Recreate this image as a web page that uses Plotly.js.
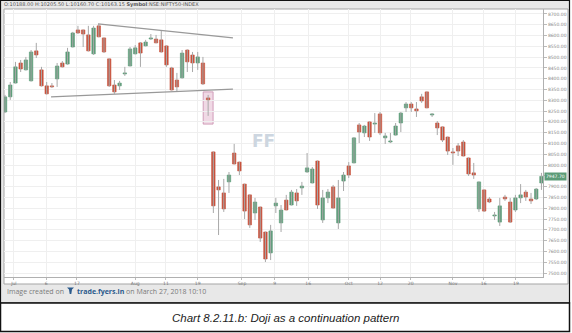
<!DOCTYPE html>
<html>
<head>
<meta charset="utf-8">
<script src="https://cdn.plot.ly/plotly-3.0.1.min.js"></script>
<style>html,body{margin:0;padding:0;background:#fff;}#chart{width:572px;height:333px;}</style>
</head>
<body>
<div id="chart"></div>
<script>
// ---- data ----
const openP = [8246,8316,8380,8473,8441,8390,8529,8441,8367,8367,
8399,8473,8468,8547,8626,8626,8603,8515,8645,8589,
8492,8371,8367,8422,8459,8515,8566,8552,8584,8584,
8580,8552,8450,8394,8404,8533,8510,8473,8473,8311,
8061,7899,7871,7922,8056,8014,7912,7862,7778,7806,
7690,7593,7811,7732,7838,7815,7871,7894,7968,7917,
8019,7746,7848,7899,7732,7926,7996,8010,8186,8149,
8200,8190,8237,8126,8107,8139,8195,8265,8283,8260,
8316,8339,8232,8195,8177,8130,8061,8089,8107,8033,
7964,7797,7885,7843,7764,7736,7852,7829,7792,7848,
7875,7843,7843,7917];
const highP = [8325,8385,8478,8487,8501,8533,8566,8455,8385,8380,
8473,8482,8543,8617,8645,8628,8645,8645,8654,8591,
8494,8394,8390,8455,8547,8556,8570,8580,8607,8603,
8621,8554,8455,8427,8533,8536,8524,8524,8501,8325,
8063,7931,7936,7968,8098,8016,7914,7864,7848,7808,
7692,7723,7848,7815,7862,7885,7889,7922,8056,7991,
8021,7885,7889,7908,7931,7968,8014,8130,8195,8186,
8202,8241,8246,8149,8149,8195,8246,8292,8292,8292,
8330,8341,8241,8204,8179,8132,8079,8102,8116,8035,
8010,7924,7887,7852,7783,7848,7862,7848,7862,7912,
7885,7871,7894,7964];
const lowP = [8241,8302,8378,8431,8438,8387,8496,8364,8327,8357,
8362,8452,8465,8545,8607,8547,8526,8510,8592,8519,
8362,8330,8348,8413,8457,8513,8455,8550,8580,8564,
8521,8455,8345,8343,8401,8431,8431,8441,8371,8228,
7778,7676,7783,7871,8003,7954,7750,7709,7746,7644,
7551,7560,7778,7690,7790,7813,7811,7862,7964,7915,
7797,7732,7824,7799,7704,7880,7940,8008,8102,8130,
8112,8149,8139,8098,8102,8137,8153,8246,8246,8223,
8288,8263,8223,8139,8107,8047,8001,8042,8040,7950,
7936,7783,7783,7824,7746,7718,7834,7732,7783,7824,
7834,7820,7838,7885];
const closeP = [8316,8371,8455,8445,8487,8524,8510,8367,8330,8362,
8459,8455,8524,8612,8612,8607,8529,8635,8594,8524,
8367,8339,8380,8427,8538,8543,8519,8570,8589,8566,
8524,8464,8348,8362,8519,8478,8473,8501,8376,8302,
7811,7885,7797,7954,8005,7973,7787,7723,7829,7662,
7565,7695,7824,7792,7792,7875,7834,7903,7987,7982,
7815,7848,7875,7801,7848,7954,7954,8126,8153,8181,
8130,8195,8149,8135,8112,8181,8241,8283,8265,8251,
8297,8265,8237,8172,8116,8065,8056,8065,8042,7959,
7954,7922,7787,7829,7769,7811,7843,7736,7848,7862,
7852,7834,7889,7947.7];

const xTickVals = [2.7, 8.9, 14.8, 26, 31.9, 38, 46.5, 52.8, 59.2, 67, 73, 78.9, 87, 92.9, 99.1];
const xTickText = ["Jul","6","17","Aug","11","19","Sep","9","16","Oct","12","20","Nov","16","19"];

const yTickVals = [7500,7550,7600,7650,7700,7750,7800,7850,7900,7950,8000,8050,8100,8150,8200,
  8250,8300,8350,8400,8450,8500,8550,8600,8650,8700];
const yTickHidden = 7950; // covered by the last-price tag

const upperTrendX = [18.85, 44.76];
const upperTrendY = [8654, 8589];
const lowerTrendX = [9.83, 44.76];
const lowerTrendY = [8316, 8352];

const dojiIndex = 40;
const dojiBoxY = [8190, 8339];

const headerText = 'O:10188.00 H:10205.50 L:10160.70 C:10163.15 <b>Symbol</b>:NSE:NIFTY50-INDEX';
const captionText = 'Chart 8.2.11.b: Doji as a continuation pattern';

// ---- build ----
const GREEN = '#5c9c78', RED = '#c8523d';
const xs = openP.map((_, i) => i + 1);
const base = [], hgt = [], cols = [];
openP.forEach((o, i) => {
  const c = closeP[i];
  base.push(Math.min(o, c));
  hgt.push(Math.abs(c - o));
  cols.push(c >= o ? GREEN : RED);
});
const wx = [], wy = [];
xs.forEach((x, i) => { wx.push(x, x, null); wy.push(lowP[i], highP[i], null); });
const yTickText = yTickVals.map(v => v === yTickHidden ? '' : v.toFixed(2));

// plot area in pixels
const PL = 4, PR = 543, PT = 9, PB = 277;
const px = p => (p - PL) / (PR - PL);
const py = p => (PB - p) / (PB - PT);

const traces = [
  {type:'scatter', mode:'lines', x:wx, y:wy, line:{color:'#a8a8a8', width:1}, hoverinfo:'skip', showlegend:false},
  {type:'bar', x:xs, y:hgt, base:base, width:0.66, marker:{color:cols, line:{color:cols, width:0.6}}, showlegend:false},
  {type:'scatter', mode:'lines', x:upperTrendX, y:upperTrendY, line:{color:'#999', width:1.2}, showlegend:false},
  {type:'scatter', mode:'lines', x:lowerTrendX, y:lowerTrendY, line:{color:'#999', width:1.2}, showlegend:false}
];

const layout = {
  width:572, height:333,
  margin:{l:PL, r:572-PR, t:PT, b:333-PB},
  paper_bgcolor:'#ffffff', plot_bgcolor:'#ffffff',
  showlegend:false,
  font:{family:'DejaVu Sans, sans-serif'},
  xaxis:{range:[0.8, 104.3], tickvals:xTickVals, ticktext:xTickText, showgrid:true, gridcolor:'#efefef',
    zeroline:false, showline:true, linecolor:'#b0b0b0', ticks:'outside', ticklen:2, tickcolor:'#bbb',
    tickfont:{size:4.5, color:'#777'}, fixedrange:true},
  yaxis:{side:'right', range:[7481.6, 8723], tickvals:yTickVals, ticktext:yTickText, showgrid:true,
    gridcolor:'#efefef', zeroline:false, showline:true, linecolor:'#b0b0b0', ticks:'outside', ticklen:3,
    tickcolor:'#bbb', tickfont:{size:4.5, color:'#888'}, fixedrange:true},
  shapes:[
    {type:'rect', xref:'paper', yref:'paper', x0:px(0), x1:px(569.5), y0:py(0), y1:py(303), fillcolor:'#e8e8e8', line:{width:0}, layer:'below'},
    {type:'rect', xref:'paper', yref:'paper', x0:px(4), x1:px(568), y0:py(9), y1:py(284), fillcolor:'#ffffff', line:{color:'#a5a5a5', width:1}, layer:'below'},
    {type:'rect', xref:'paper', yref:'paper', x0:px(0.5), x1:px(569.5), y0:py(0.5), y1:py(303), fillcolor:'rgba(0,0,0,0)', line:{color:'#111', width:1.2}, layer:'below'},
    {type:'rect', xref:'paper', yref:'paper', x0:px(0.5), x1:px(569.5), y0:py(303), y1:py(331.5), fillcolor:'#ffffff', line:{color:'#111', width:1.5}, layer:'below'},
    {type:'rect', xref:'x', yref:'y', x0:dojiIndex-0.95, x1:dojiIndex+0.95, y0:dojiBoxY[0], y1:dojiBoxY[1], fillcolor:'rgba(222,170,198,0.45)', line:{color:'rgba(205,150,180,0.9)', width:1}, layer:'below'},
    {type:'path', xref:'paper', yref:'paper', path:`M ${px(67)} ${py(287.5)} L ${px(74)} ${py(287.5)} L ${px(72)} ${py(289.5)} L ${px(71.3)} ${py(294)} L ${px(69.7)} ${py(294)} L ${px(69)} ${py(289.5)} Z`, fillcolor:'#2b5a8c', line:{width:0}}
  ],
  annotations:[
    {xref:'paper', yref:'paper', x:px(2), y:py(5), xanchor:'left', yanchor:'middle', showarrow:false, text:headerText, font:{size:5, color:'#555'}},
    {xref:'paper', yref:'y', x:1, y:closeP[closeP.length-1], xanchor:'left', yanchor:'middle', xshift:1, showarrow:false, text:'7947.70', bgcolor:'#5c9c78', borderpad:1, font:{size:4.5, color:'#ffffff'}},
    {xref:'paper', yref:'paper', x:px(263), y:py(141), xanchor:'center', yanchor:'middle', showarrow:false, text:'<b>FF</b>', font:{size:17, color:'#cdd6e0'}},
    {xref:'paper', yref:'paper', x:px(5), y:py(291), xanchor:'left', yanchor:'middle', showarrow:false, text:'Image created on', font:{family:'Open Sans, sans-serif', size:7, color:'#7a7a7a'}},
    {xref:'paper', yref:'paper', x:px(75), y:py(291), xanchor:'left', yanchor:'middle', showarrow:false, text:'<b><span style="color:#2b5a8c">trade.fyers.in</span></b> on March 27, 2018 10:10', font:{family:'Open Sans, sans-serif', size:7, color:'#7a7a7a'}},
    {xref:'paper', yref:'paper', x:px(285), y:py(318), xanchor:'center', yanchor:'middle', showarrow:false, text:'<i>'+captionText+'</i>', font:{family:'Liberation Sans, sans-serif', size:11.5, color:'#222'}}
  ]
};

Plotly.newPlot('chart', traces, layout, {staticPlot:true, displayModeBar:false});
</script>
</body>
</html>
